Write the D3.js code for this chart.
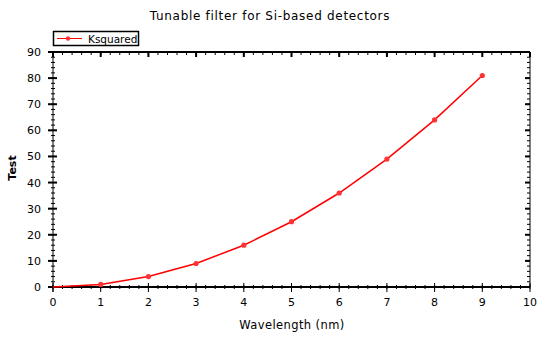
<!DOCTYPE html>
<html><head><meta charset="utf-8">
<script src="https://cdn.jsdelivr.net/npm/d3@7"></script>
<style>body{margin:0;background:#fff}svg{display:block}text{font-family:"DejaVu Sans",Verdana,sans-serif;font-size:11px;fill:#000}</style>
</head><body>
<script>
const xValues = [0,1,2,3,4,5,6,7,8,9];
const yValues = [0,1,4,9,16,25,36,49,64,81];
const xTicks = [0,1,2,3,4,5,6,7,8,9,10];
const yTicks = [0,10,20,30,40,50,60,70,80,90];
const titleText = "Tunable filter for Si-based detectors";
const xLabel = "Wavelength (nm)";
const yLabel = "Test";
const seriesName = "Ksquared";

const W=554,H=343;
const svg=d3.select("body").append("svg").attr("width",W).attr("height",H);
const L=53,R=530,T=52,B=287;
const x=d3.scaleLinear().domain([0,10]).range([L,R]);
const y=d3.scaleLinear().domain([0,90]).range([B,T]);

svg.append("line").attr("x1",L).attr("x2",R).attr("y1",T).attr("y2",T).attr("stroke","#000").attr("stroke-width",2);
svg.append("line").attr("x1",R).attr("x2",R).attr("y1",T).attr("y2",B).attr("stroke","#000").attr("stroke-width",1);
svg.append("line").attr("x1",L).attr("x2",L).attr("y1",T).attr("y2",B+5).attr("stroke","#000").attr("stroke-width",1);
svg.append("line").attr("x1",L-4).attr("x2",R).attr("y1",B).attr("y2",B).attr("stroke","#000").attr("stroke-width",2);

const xMinor=d3.range(0,10.001,0.2);
const yMinor=d3.range(0,90.001,2);
xMinor.forEach(v=>{svg.append("line").attr("x1",x(v)).attr("x2",x(v)).attr("y1",B-2).attr("y2",B+2).attr("stroke","#000");});
xTicks.forEach(v=>{svg.append("line").attr("x1",x(v)).attr("x2",x(v)).attr("y1",B-4).attr("y2",B+5).attr("stroke","#000");});
xMinor.forEach(v=>{svg.append("line").attr("x1",x(v)).attr("x2",x(v)).attr("y1",T).attr("y2",T+3).attr("stroke","#000");});
xTicks.forEach(v=>{svg.append("line").attr("x1",x(v)).attr("x2",x(v)).attr("y1",T).attr("y2",T+5).attr("stroke","#000").attr("stroke-width",2);});
yMinor.forEach(v=>{svg.append("line").attr("x1",L-2).attr("x2",L+2).attr("y1",y(v)).attr("y2",y(v)).attr("stroke","#000");});
yTicks.forEach(v=>{svg.append("line").attr("x1",L-5).attr("x2",L+4).attr("y1",y(v)).attr("y2",y(v)).attr("stroke","#000").attr("stroke-width",2);});
yMinor.forEach(v=>{svg.append("line").attr("x1",R-3).attr("x2",R).attr("y1",y(v)).attr("y2",y(v)).attr("stroke","#000");});
yTicks.forEach(v=>{svg.append("line").attr("x1",R-5).attr("x2",R).attr("y1",y(v)).attr("y2",y(v)).attr("stroke","#000").attr("stroke-width",2);});

svg.selectAll(".xt").data(xTicks).enter().append("text").attr("x",d=>x(d)).attr("y",B+19).attr("text-anchor","middle").text(d=>d);
svg.selectAll(".yt").data(yTicks).enter().append("text").attr("x",L-12).attr("y",d=>y(d)+4).attr("text-anchor","end").text(d=>d);

svg.append("text").attr("x",270).attr("y",20).attr("text-anchor","middle").style("font-size","12px").style("letter-spacing","0.7px").text(titleText);
svg.append("text").attr("x",292).attr("y",329).attr("text-anchor","middle").style("font-size","11.5px").style("letter-spacing","0.4px").text(xLabel);
svg.append("text").attr("transform","translate(16,168) rotate(-90)").attr("text-anchor","middle").style("font-weight","bold").text(yLabel);

const data=xValues.map((v,i)=>[v,yValues[i]]);
svg.append("path").datum(data).attr("fill","none").attr("stroke","#f00").attr("stroke-width",1.5)
 .attr("d",d3.line().x(d=>x(d[0])).y(d=>y(d[1])));
svg.selectAll(".pt").data(data.slice(1)).enter().append("circle").attr("cx",d=>x(d[0])).attr("cy",d=>y(d[1])).attr("r",2.6).attr("fill","#f33").attr("stroke","none");

svg.append("rect").attr("x",53.5).attr("y",31.5).attr("width",85).attr("height",14).attr("fill","#fff").attr("stroke","#000").attr("stroke-width",1.5);
svg.append("line").attr("x1",57).attr("x2",82).attr("y1",38.5).attr("y2",38.5).attr("stroke","#f00");
svg.append("circle").attr("cx",68).attr("cy",38.5).attr("r",2.2).attr("fill","#f33");
svg.append("text").attr("x",88).attr("y",42.5).style("font-size","10.5px").text(seriesName);
</script>
</body></html>
